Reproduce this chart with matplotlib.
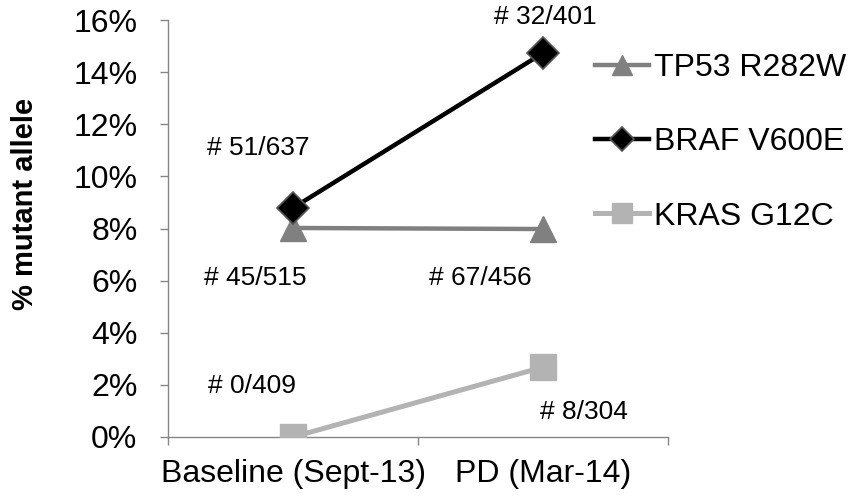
import numpy as np
import matplotlib
matplotlib.use("Agg")
import matplotlib.pyplot as plt
from matplotlib.ticker import FuncFormatter

plt.rcParams['font.family'] = ['Liberation Sans', 'DejaVu Sans']

# data
timepoints = ["Baseline (Sept-13)", "PD (Mar-14)"]
tp53 = [8.02, 7.98]
braf = [8.79, 14.73]
kras = [0.0, 2.68]
labels = ["TP53 R282W", "BRAF V600E", "KRAS G12C"]

# read counts shown next to points (text, x, y)
count_text = ["# 32/401", "# 51/637", "# 45/515", "# 67/456", "# 0/409", "# 8/304"]
count_x = [1.01, -0.14, -0.15, 0.75, -0.165, 1.165]
count_y = [16.1, 11.1, 6.1, 6.1, 1.95, 0.95]

fig = plt.figure(figsize=(8.53, 5.0), dpi=100)
ax = fig.add_axes([0.197, 0.126, 0.586, 0.834])

x = np.arange(len(timepoints))
ax.plot(x, tp53, color='#808080', lw=3.2, marker='^', ms=19,
        mfc='#808080', mec='#808080', label=labels[0], zorder=3)
ax.plot(x, braf, color='black', lw=3.2, marker='D', ms=16,
        mfc='black', mec='#555555', mew=1.2, label=labels[1], zorder=4)
ax.plot(x, kras, color='#b3b3b3', lw=3.6, marker='s', ms=19,
        mfc='#b3b3b3', mec='#b3b3b3', label=labels[2], zorder=3)

for t, tx, ty in zip(count_text, count_x, count_y):
    ax.text(tx, ty, t, ha='center', va='center', fontsize=19, color='black')

ax.set_xlim(-0.5, 1.5)
ax.set_ylim(0, 16)
ax.set_yticks(np.arange(0, 17, 2))
ax.yaxis.set_major_formatter(FuncFormatter(lambda v, p: f"{v:.0f}%"))
ax.set_xticks(x)
ax.set_xticklabels(timepoints)
ax.set_xticks([-0.5, 0.5, 1.5], minor=True)
ax.tick_params(axis='x', which='major', length=0, pad=16, labelsize=23)
ax.tick_params(axis='x', which='minor', length=6, color='#868686', width=1)
ax.tick_params(axis='y', length=6, color='#868686', width=1, pad=16, labelsize=23)

for s in ['top', 'right']:
    ax.spines[s].set_visible(False)
for s in ['left', 'bottom']:
    ax.spines[s].set_color('#868686')
    ax.spines[s].set_linewidth(1)

ax.set_ylabel("% mutant allele", fontsize=21, fontweight='bold')
ax.yaxis.set_label_coords(-0.258, 0.56)

ax.legend(loc='upper left', bbox_to_anchor=(0.854, 0.92), frameon=False,
          fontsize=23, markerscale=0.75, handlelength=1.7, handletextpad=0.15,
          labelspacing=1.38, borderaxespad=0, borderpad=0)

fig.savefig("out.png", dpi=100)
